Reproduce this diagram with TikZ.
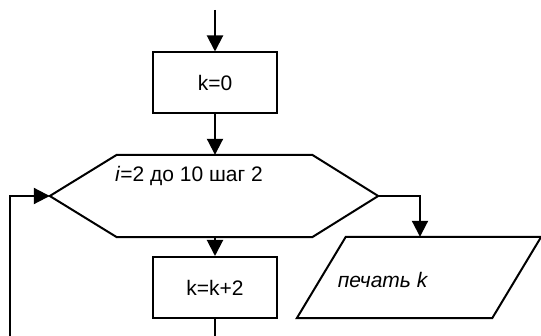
\documentclass[tikz,border=0pt]{standalone}
\usepackage{fontspec}
\setmainfont{Liberation Sans}
\usetikzlibrary{arrows.meta}
\usetikzlibrary{positioning}

\tikzset{
  blok/.style={draw, line width=2pt, minimum width=124pt, minimum height=61pt, inner sep=0pt, font=\fontsize{21pt}{25pt}\selectfont},
  ramka/.style={minimum width=328pt, minimum height=82pt, inner sep=0pt},
  vyvod/.style={minimum width=195pt, minimum height=81pt, inner sep=0pt},
  tekst/.style={inner sep=0pt, font=\fontsize{21pt}{25pt}\selectfont},
  strelka/.style={line width=2pt, -{Triangle[length=16pt,width=16pt]}},
  liniya/.style={line width=2pt}
}

\begin{document}
\begin{tikzpicture}[x=1pt,y=-1pt]
    \useasboundingbox (0,0) rectangle (541,336);

    \coordinate (vhod) at (215,10);
    \node[blok] (nachalo) at (215,83) {k=0};
    \node[ramka] (cikl) at (214,196) {};
    \node[blok] (shag) at (215,287.5) {k=k+2};
    \node[vyvod] (pechat) at (419,277.5) {};
    \coordinate (niz) at (215,336);
    \coordinate (nizlevo) at (10,336);
    \coordinate (ugol) at (10,196);
    \coordinate (povorot) at (420,196);

    % hexagon of the loop
    \draw[liniya, line join=miter] (cikl.west) -- ([xshift=67pt]cikl.north west) -- ([xshift=-66pt]cikl.north east)
        -- (cikl.east) -- ([xshift=-66pt]cikl.south east) -- ([xshift=67pt]cikl.south west) -- cycle;
    \node[tekst, anchor=west] (usl) at (115,176) {\textit{i}=2 до 10 шаг 2};

    % output
    \draw[liniya, line join=miter] ([xshift=24.5pt]pechat.north west) -- ([xshift=24.5pt]pechat.north east)
        -- ([xshift=-24.5pt]pechat.south east) -- ([xshift=-24.5pt]pechat.south west) -- cycle;
    \node[tekst] (pechtekst) at (383,280) {\textit{печать k}};

    \draw[strelka] (vhod) -- (nachalo.north);
    \draw[strelka] (nachalo.south) -- ([xshift=1pt]cikl.north);
    \draw[strelka] ([xshift=1pt]cikl.south) -- (shag.north);
    \draw[strelka] (cikl.east) -- (povorot) -- (pechat.north -| povorot);
    \draw[liniya] (shag.south) -- (niz);
    \draw[strelka] (nizlevo) -- (ugol) -- (cikl.west);
\end{tikzpicture}
\end{document}
